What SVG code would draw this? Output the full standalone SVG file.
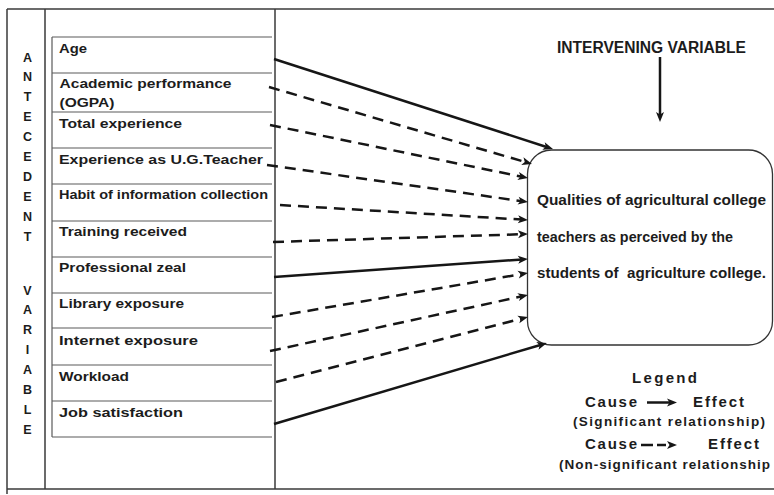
<svg xmlns="http://www.w3.org/2000/svg" width="774" height="495" viewBox="0 0 774 495">
<defs>
<style>
.frame{stroke:#3a3a3a;stroke-width:1.5;fill:none}
.row{stroke:#5a5a5a;stroke-width:1.2;fill:none}
.t{font-family:"Liberation Sans",Arial,sans-serif;font-weight:bold;fill:#1c1c1c}
.lbl{font-size:13.5px}
.big{font-size:16px}
.box{font-size:15.5px}
.vert{font-size:12.5px}
.leg{font-size:15px}
.legs{font-size:13.5px}
.sol{stroke:#161616;stroke-width:2.5;fill:none;marker-end:url(#ah)}
.dsh{stroke:#161616;stroke-width:2.5;fill:none;stroke-dasharray:11 7;marker-end:url(#ah)}
</style>
<marker id="ah" markerUnits="userSpaceOnUse" markerWidth="11" markerHeight="9" refX="4" refY="4.5" orient="auto" overflow="visible">
<path d="M0,0.5 L10,4.5 L0,8.5 L2.5,4.5 Z" fill="#161616"/>
</marker>
</defs>
<rect width="774" height="495" fill="#ffffff"/>

<g id="frame">
<line class="frame" x1="7" y1="9" x2="774" y2="9"/>
<line class="frame" x1="7" y1="489" x2="774" y2="489"/>
<line class="frame" x1="7" y1="9" x2="7" y2="494"/>
<line class="frame" x1="45" y1="9" x2="45" y2="489"/>
<line class="frame" x1="275" y1="9" x2="275" y2="489"/>
</g>

<g id="antecedent-variable-label">
<text class="t vert" text-anchor="middle"><tspan x="27.5" y="61.5">A</tspan><tspan x="27.5" dy="19.9">N</tspan><tspan x="27.5" dy="19.9">T</tspan><tspan x="27.5" dy="19.9">E</tspan><tspan x="27.5" dy="19.9">C</tspan><tspan x="27.5" dy="19.9">E</tspan><tspan x="27.5" dy="19.9">D</tspan><tspan x="27.5" dy="19.9">E</tspan><tspan x="27.5" dy="19.9">N</tspan><tspan x="27.5" dy="19.9">T</tspan><tspan x="27.5" y="294.5">V</tspan><tspan x="27.5" dy="19.9">A</tspan><tspan x="27.5" dy="19.9">R</tspan><tspan x="27.5" dy="19.9">I</tspan><tspan x="27.5" dy="19.9">A</tspan><tspan x="27.5" dy="19.9">B</tspan><tspan x="27.5" dy="19.9">L</tspan><tspan x="27.5" dy="19.9">E</tspan></text>
</g>

<g id="antecedent-table">
<line class="row" x1="52" y1="37" x2="52" y2="437"/>
<line class="row" x1="52" y1="37" x2="272" y2="37"/>
<line class="row" x1="52" y1="437" x2="272" y2="437"/>
</g>
<g id="node-age"><line class="row" x1="52" y1="73" x2="272" y2="73"/><text class="t lbl" x="59" y="53" textLength="28" lengthAdjust="spacingAndGlyphs">Age</text></g>
<g id="node-academic-performance"><line class="row" x1="52" y1="112" x2="272" y2="112"/><text class="t lbl" x="59.5" y="88" textLength="172" lengthAdjust="spacingAndGlyphs">Academic performance</text><text class="t lbl" x="59.5" y="107" textLength="55" lengthAdjust="spacingAndGlyphs">(OGPA)</text></g>
<g id="node-total-experience"><line class="row" x1="52" y1="148" x2="272" y2="148"/><text class="t lbl" x="59" y="128" textLength="123" lengthAdjust="spacingAndGlyphs">Total experience</text></g>
<g id="node-experience-ug-teacher"><line class="row" x1="52" y1="184" x2="272" y2="184"/><text class="t lbl" x="59" y="164" textLength="204" lengthAdjust="spacingAndGlyphs">Experience as U.G.Teacher</text></g>
<g id="node-habit-information"><line class="row" x1="52" y1="221" x2="272" y2="221"/><text class="t lbl" x="59" y="199" textLength="209" lengthAdjust="spacingAndGlyphs">Habit of information collection</text></g>
<g id="node-training-received"><line class="row" x1="52" y1="257" x2="272" y2="257"/><text class="t lbl" x="59" y="236" textLength="128" lengthAdjust="spacingAndGlyphs">Training received</text></g>
<g id="node-professional-zeal"><line class="row" x1="52" y1="293" x2="272" y2="293"/><text class="t lbl" x="59" y="272" textLength="127" lengthAdjust="spacingAndGlyphs">Professional zeal</text></g>
<g id="node-library-exposure"><line class="row" x1="52" y1="328" x2="272" y2="328"/><text class="t lbl" x="59" y="308" textLength="125" lengthAdjust="spacingAndGlyphs">Library exposure</text></g>
<g id="node-internet-exposure"><line class="row" x1="52" y1="365" x2="272" y2="365"/><text class="t lbl" x="59" y="345" textLength="139" lengthAdjust="spacingAndGlyphs">Internet exposure</text></g>
<g id="node-workload"><line class="row" x1="52" y1="401" x2="272" y2="401"/><text class="t lbl" x="59" y="381" textLength="70" lengthAdjust="spacingAndGlyphs">Workload</text></g>
<g id="node-job-satisfaction"><text class="t lbl" x="59" y="417" textLength="124" lengthAdjust="spacingAndGlyphs">Job satisfaction</text></g>

<g id="node-intervening-variable">
<text class="t big" x="557" y="53" textLength="189" lengthAdjust="spacingAndGlyphs">INTERVENING VARIABLE</text>
<line class="sol" x1="660" y1="57" x2="660" y2="116"/>
</g>

<g id="node-qualities">
<rect x="527.5" y="150" width="245" height="195" rx="24" ry="24" fill="none" stroke="#333" stroke-width="1.3"/>
<text class="t box" x="537" y="205" textLength="229" lengthAdjust="spacingAndGlyphs">Qualities of agricultural college</text>
<text class="t box" x="537" y="242" textLength="196" lengthAdjust="spacingAndGlyphs">teachers as perceived by the</text>
<text class="t box" x="537" y="278" textLength="229" lengthAdjust="spacingAndGlyphs" xml:space="preserve">students of  agriculture college.</text>
</g>

<g id="connectors">
<line class="sol" x1="274" y1="59" x2="547.3" y2="147.2"/>
<line class="dsh" x1="269" y1="87" x2="526.2" y2="162.3"/>
<line class="dsh" x1="270" y1="125" x2="522.1" y2="176.8"/>
<line class="dsh" x1="267" y1="165" x2="522.1" y2="201.2"/>
<line class="dsh" x1="280" y1="205" x2="522" y2="219.6"/>
<line class="dsh" x1="273" y1="242" x2="522" y2="234.2"/>
<line class="sol" x1="274" y1="277" x2="522" y2="259.4"/>
<line class="dsh" x1="272" y1="317" x2="522.1" y2="274"/>
<line class="dsh" x1="270" y1="351" x2="522.1" y2="296.3"/>
<line class="dsh" x1="276" y1="382" x2="522.2" y2="318.5"/>
<line class="sol" x1="274" y1="424" x2="541.2" y2="344.7"/>
</g>

<g id="legend">
<text class="t leg" x="632" y="383" textLength="65" lengthAdjust="spacing">Legend</text>
<text class="t leg" x="585" y="407" textLength="52" lengthAdjust="spacing">Cause</text>
<line class="sol" x1="647" y1="402.5" x2="671" y2="402.5"/>
<text class="t leg" x="693" y="407" textLength="51" lengthAdjust="spacing">Effect</text>
<text class="t legs" x="573" y="426" textLength="192" lengthAdjust="spacing">(Significant relationship)</text>
<text class="t leg" x="585" y="449" textLength="52" lengthAdjust="spacing">Cause</text>
<line x1="641" y1="445" x2="671" y2="445" stroke="#161616" stroke-width="2.5" stroke-dasharray="12 4 9 20" marker-end="url(#ah)"/>
<text class="t leg" x="708" y="449" textLength="51" lengthAdjust="spacing">Effect</text>
<text class="t legs" x="559" y="469" textLength="211" lengthAdjust="spacing">(Non-significant relationship</text>
</g>
</svg>
